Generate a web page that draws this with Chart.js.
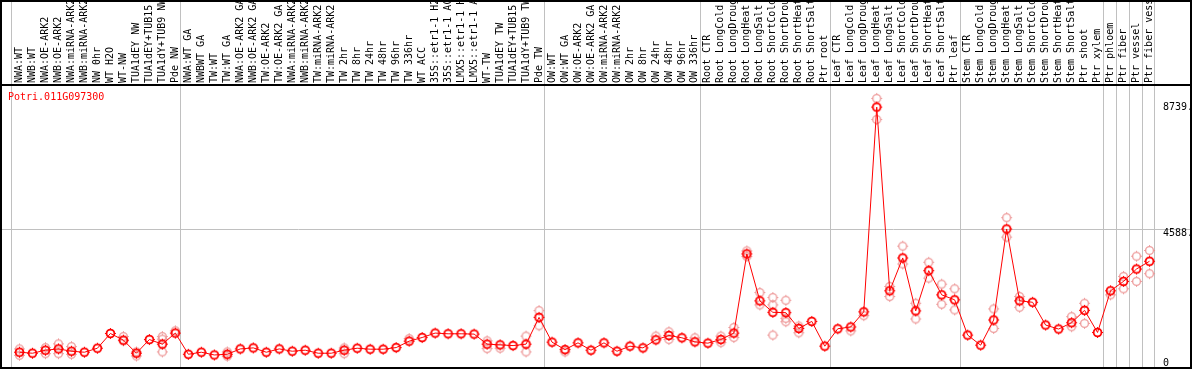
<!DOCTYPE html>
<html>
<head>
<meta charset="utf-8">
<script src="https://cdn.jsdelivr.net/npm/chart.js@4/dist/chart.umd.min.js"></script>
<style>
html,body{margin:0;padding:0;background:#fff;}
#wrap{width:1194px;height:370px;position:relative;}
</style>
</head>
<body>
<div id="wrap"><canvas id="c" width="1194" height="370"></canvas></div>
<script>
const geneTitle = "Potri.011G097300";
const categories = [
"NWA:WT","NWB:WT","NWA:OE-ARK2","NWB:OE-ARK2","NWA:miRNA-ARK2","NWB:miRNA-ARK2","NW 0hr","WT H2O","WT-NW","TUA1dEY NW","TUA1dEY+TUB15 NW","TUA1dY+TUB9 NW","Pde NW",
"NWA:WT GA","NWBWT GA","TW:WT","TW:WT GA","NWA:OE-ARK2 GA","NWB:OE-ARK2 GA","TW:OE-ARK2","TW:OE-ARK2 GA","NWA:miRNA-ARK2","NWB:miRNA-ARK2","TW:miRNA-ARK2","TW:miRNA-ARK2","TW 2hr","TW 8hr","TW 24hr","TW 48hr","TW 96hr","TW 336hr","WT ACC","35S::etr1-1 H2O","35S::etr1-1 ACC","LMX5::etr1-1 H2O","LMX5::etr1-1 ACC","WT-TW","TUA1dEY TW","TUA1dEY+TUB15 TW","TUA1dY+TUB9 TW","Pde TW",
"OW:WT","OW:WT GA","OW:OE-ARK2","OW:OE-ARK2 GA","OW:miRNA-ARK2","OW:miRNA-ARK2","OW 2hr","OW 8hr","OW 24hr","OW 48hr","OW 96hr","OW 336hr",
"Root CTR","Root LongCold","Root LongDrought","Root LongHeat","Root LongSalt","Root ShortCold","Root ShortDrought","Root ShortHeat","Root ShortSalt","Ptr root",
"Leaf CTR","Leaf LongCold","Leaf LongDrought","Leaf LongHeat","Leaf LongSalt","Leaf ShortCold","Leaf ShortDrought","Leaf ShortHeat","Leaf ShortSalt","Ptr leaf",
"Stem CTR","Stem LongCold","Stem LongDrought","Stem LongHeat","Stem LongSalt","Stem ShortCold","Stem ShortDrought","Stem ShortHeat","Stem ShortSalt","Ptr shoot","Ptr xylem",
"Ptr phloem","Ptr fiber","Ptr vessel","Ptr fiber vessel"];

const meanValues = [
391,357,460,504,425,391,528,1029,803,357,823,666,1043,
322,391,298,322,504,539,391,504,425,460,357,357,460,528,494,494,549,768,892,1043,1019,1019,1009,666,642,617,666,1578,
734,480,710,460,710,425,597,539,813,961,882,744,
700,823,1043,3739,2141,1750,1739,1201,1441,597,
1190,1252,1767,8739,2484,3602,1798,3170,2346,2175,
974,631,1489,4588,2141,2093,1317,1180,1396,1818,1063,
2484,2803,3225,3489];

const repIndex = [0,0,2,2,3,3,4,4,8,8,9,9,11,11,11,12,16,16,25,25,30,36,36,37,39,39,40,40,42,49,50,50,52,54,54,55,55,56,56,57,57,58,58,58,59,59,59,60,60,64,65,66,66,67,67,68,68,69,69,70,70,71,71,72,72,75,75,76,76,77,77,81,81,82,82,84,85,85,86,86,87,87];
const repValue = [503,288,549,343,676,343,583,322,926,779,401,264,926,837,401,1122,401,254,539,343,858,779,515,528,940,401,1808,1293,401,940,1087,823,882,940,720,1235,892,3842,3650,2425,2003,2254,2003,974,2161,1544,1431,1283,1053,1117,1636,9036,8316,2631,2288,4003,3396,2058,1523,3455,2916,2710,2024,2552,1832,1866,1201,4974,4312,2288,1921,1602,1259,2058,1372,2346,2974,2552,3660,2803,3856,3067];

const yTickValues = [0, 4588, 8739];
const yTickText = ["0", "4588.", "8739."];
const gridValue = 4588;
const groupStarts = [0, 13, 41, 53, 63, 73, 84, 85, 86, 87, 88];

// replicate values arranged into index-aligned series (1st, 2nd, 3rd replicate shown per category)
const repSeries = [];
repIndex.forEach((k, j) => {
  let n = 0;
  while (repSeries[n] && repSeries[n][k] !== null) n++;
  if (!repSeries[n]) repSeries[n] = categories.map(() => null);
  repSeries[n][k] = repValue[j];
});

function makeMarker(color, lw) {
  const s = 13, c = document.createElement('canvas');
  c.width = s; c.height = s;
  const g = c.getContext('2d');
  g.strokeStyle = color;
  g.lineWidth = lw;
  g.beginPath(); g.arc(6.5, 6.5, 3.9, 0, Math.PI * 2); g.stroke();
  g.lineWidth = 1;
  g.beginPath();
  g.moveTo(6.5, 1); g.lineTo(6.5, 2.2);
  g.moveTo(6.5, 10.8); g.lineTo(6.5, 12);
  g.moveTo(1, 6.5); g.lineTo(2.2, 6.5);
  g.moveTo(10.8, 6.5); g.lineTo(12, 6.5);
  g.stroke();
  return c;
}
const meanMarker = makeMarker('#ff0000', 1.8);
const repMarker = makeMarker('rgba(235,140,140,0.85)', 1.4);

const FONT = {family: "'DejaVu Sans Mono', monospace", size: 10};
const FONT_CSS = "10px 'DejaVu Sans Mono', monospace";

const framePlugin = {
  id: 'frame',
  beforeDatasetsDraw(chart) {
    const ctx = chart.ctx, x = chart.scales.x, y = chart.scales.y;
    ctx.save();
    ctx.strokeStyle = '#c0c0c0';
    ctx.lineWidth = 1;
    ctx.beginPath();
    groupStarts.forEach(k => {
      const px = Math.round(x.getPixelForValue(k) - 8) + 0.5;
      ctx.moveTo(px, 0); ctx.lineTo(px, 368);
    });
    const gy = Math.round(y.getPixelForValue(gridValue)) + 0.5;
    ctx.moveTo(1, gy); ctx.lineTo(1191, gy);
    ctx.stroke();
    ctx.restore();
  },
  afterDraw(chart) {
    const ctx = chart.ctx, y = chart.scales.y;
    ctx.save();
    ctx.strokeStyle = '#000';
    ctx.lineWidth = 2;
    ctx.beginPath();
    ctx.moveTo(0, 1); ctx.lineTo(1192, 1);
    ctx.moveTo(0, 85); ctx.lineTo(1192, 85);
    ctx.moveTo(0, 368); ctx.lineTo(1192, 368);
    ctx.moveTo(1, 0); ctx.lineTo(1, 369);
    ctx.moveTo(1191, 0); ctx.lineTo(1191, 369);
    ctx.stroke();
    ctx.font = FONT_CSS;
    ctx.textBaseline = 'middle';
    ctx.textAlign = 'left';
    ctx.fillStyle = '#000';
    yTickValues.forEach((v, j) => {
      const py = y.getPixelForValue(v) + (v === gridValue ? 4 : 0);
      ctx.fillText(yTickText[j], y.left + 7, py);
    });
    ctx.fillStyle = '#ff0000';
    ctx.fillText(geneTitle, 8, 97);
    ctx.restore();
  }
};

const datasets = [{
  type: 'line',
  data: meanValues,
  borderColor: '#ff0000',
  borderWidth: 1,
  tension: 0,
  pointStyle: meanMarker,
  pointRadius: 5,
  order: 0
}];
repSeries.forEach(arr => datasets.push({
  type: 'line',
  data: arr,
  showLine: false,
  spanGaps: false,
  pointStyle: repMarker,
  pointRadius: 5,
  order: 1
}));

new Chart(document.getElementById('c'), {
  data: {labels: categories, datasets},
  options: {
    responsive: false,
    animation: false,
    events: [],
    layout: {padding: {left: 13, right: 0, top: 0, bottom: 2}},
    plugins: {legend: {display: false}, tooltip: {enabled: false}, title: {display: false}},
    scales: {
      x: {
        type: 'category',
        position: 'top',
        offset: true,
        grid: {display: false, drawTicks: false},
        border: {display: false},
        ticks: {autoSkip: false, minRotation: 90, maxRotation: 90, font: FONT, color: '#000', padding: 2, labelOffset: 12},
        afterFit(s) { s.height = 85; s.paddingLeft = 0; s.paddingRight = 0; }
      },
      y: {
        type: 'linear',
        position: 'right',
        min: -10,
        max: 9492,
        grid: {display: false, drawTicks: false},
        border: {display: false},
        afterBuildTicks(s) { s.ticks = yTickValues.map(v => ({value: v})); },
        ticks: {display: false},
        afterFit(s) { s.width = 38; }
      }
    }
  },
  plugins: [framePlugin]
});
</script>
</body>
</html>
